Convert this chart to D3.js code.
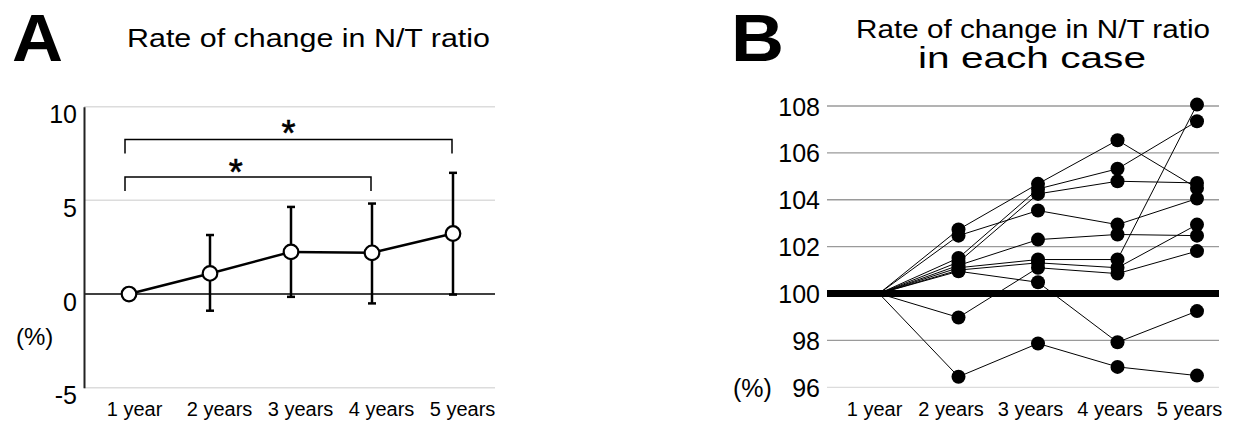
<!DOCTYPE html>
<html><head><meta charset="utf-8">
<script src="https://cdn.jsdelivr.net/npm/d3@7"></script>
<style>body{margin:0;background:#fff}svg{display:block}text{font-family:"Liberation Sans",Arial,sans-serif;fill:#000}</style>
</head><body>
<svg id="c" width="1238" height="423"></svg>
<script>
const categories = ["1 year","2 years","3 years","4 years","5 years"];
// Panel A: mean rate of change (%) with error bars
const meanA = [0, 1.1, 2.25, 2.2, 3.23];
const upperA = [0, 3.15, 4.65, 4.83, 6.47];
const lowerA = [0, -0.89, -0.15, -0.5, -0.03];
const ticksA = [-5, 0, 5, 10];
// significance brackets: [from index, to index, bracket level (%)]
const bracketFrom = [0, 0];
const bracketTo = [4, 3];
const bracketLevel = [8.25, 6.25];
// Panel B: each case (%)
const case1 = [100, 102.73, 104.68, 106.54, 104.5];
const case2 = [100, 101.52, 104.46, 105.32, 107.35];
const case3 = [100, 101.34, 104.25, 104.79, 104.72];
const case4 = [100, 102.47, 103.54, 102.94, 104.05];
const case5 = [100, 101.2, 102.3, 102.52, 102.47];
const case6 = [100, 101.1, 101.45, 101.45, 108.06];
const case7 = [100, 101.0, 101.31, 101.1, 102.94];
const case8 = [100, 98.98, 101.1, 100.85, 101.81];
const case9 = [100, 100.95, 100.48, 97.92, 99.25];
const case10 = [100, 96.45, 97.87, 96.87, 96.5];
const casesB = [case1,case2,case3,case4,case5,case6,case7,case8,case9,case10];
const ticksB = [96, 98, 100, 102, 104, 106, 108];

const svg = d3.select("#c");
const FF = "Liberation Sans, Arial, sans-serif";
function fitText(sel, w){
  sel.attr("textLength", w).attr("lengthAdjust","spacingAndGlyphs");
  return sel;
}

// ---------- Panel A ----------
const xA = d3.scalePoint().domain(categories).range([129, 453]);
const yA = d3.scaleLinear().domain([-5, 10]).range([387.7, 106.7]);
const gA = svg.append("g");
fitText(gA.append("text").attr("x",12).attr("y",61).attr("font-size",67).attr("font-weight","bold").text("A"), 51);
fitText(gA.append("text").attr("x",127).attr("y",46.5).attr("font-size",26.5).text("Rate of change in N/T ratio"), 363);

gA.selectAll(".grid").data(ticksA.filter(d=>d!==0)).join("line")
  .attr("x1",84).attr("x2",495).attr("y1",d=>yA(d)).attr("y2",d=>yA(d))
  .attr("stroke","#dcdcdc").attr("stroke-width",1.5);
gA.append("line").attr("x1",84).attr("x2",495).attr("y1",yA(0)).attr("y2",yA(0)).attr("stroke","#000").attr("stroke-width",1.5);
const axA = d3.axisLeft(yA).tickValues(ticksA).tickSize(0).tickPadding(7).tickFormat(d=>String(d));
const axg = gA.append("g").attr("transform","translate(84,0)").call(axA);
axg.select(".domain").attr("stroke","#222").attr("stroke-width",2);
axg.selectAll("text").attr("font-size",25).attr("dy","0.64em").attr("font-family",FF);
gA.append("text").attr("x",16).attr("y",345).attr("font-size",24).text("(%)");

const xg = gA.append("g").attr("transform","translate(0,400)").call(d3.axisBottom(xA).tickSize(0).tickPadding(0));
xg.select(".domain").remove();
xg.selectAll("text").attr("font-size",20).attr("dy","0.8em").attr("dx",(d,i)=>i===0?5:9).attr("font-family",FF);

// brackets
const starPos = [0.5, 0.45];
bracketFrom.forEach((f,i)=>{
  const x1 = xA(categories[f]) - 4, x2 = xA(categories[bracketTo[i]]) - 1, y = yA(bracketLevel[i]);
  gA.append("path").attr("d",`M${x1},${y+14}V${y}H${x2}V${y+14}`).attr("fill","none").attr("stroke","#000").attr("stroke-width",1.5);
  gA.append("text").attr("x",x1+(x2-x1)*starPos[i]).attr("y",y+(i===0?7:8.3)).attr("text-anchor","middle")
    .attr("font-size",36).attr("stroke","#000").attr("stroke-width",0.6).text("*");
});

// error bars
categories.forEach((c,i)=>{
  if (i===0) return;
  const x = xA(c);
  gA.append("line").attr("x1",x).attr("x2",x).attr("y1",yA(upperA[i])).attr("y2",yA(lowerA[i])).attr("stroke","#000").attr("stroke-width",2.5);
  [upperA[i], lowerA[i]].forEach(v=>gA.append("line").attr("x1",x-4).attr("x2",x+4).attr("y1",yA(v)).attr("y2",yA(v)).attr("stroke","#000").attr("stroke-width",2.5));
});
gA.append("path").datum(meanA).attr("d",d3.line().x((d,i)=>xA(categories[i])).y(d=>yA(d)))
  .attr("fill","none").attr("stroke","#000").attr("stroke-width",2.5);
gA.selectAll(".pt").data(meanA).join("circle").attr("cx",(d,i)=>xA(categories[i])).attr("cy",d=>yA(d)).attr("r",7.3)
  .attr("fill","#fff").attr("stroke","#000").attr("stroke-width",2.2);

// ---------- Panel B ----------
const xB = d3.scalePoint().domain(categories).range([879, 1197]);
const yB = d3.scaleLinear().domain([96, 108]).range([387.3, 106]);
const gB = svg.append("g");
fitText(gB.append("text").attr("x",731).attr("y",61).attr("font-size",67).attr("font-weight","bold").text("B"), 53);
fitText(gB.append("text").attr("x",1033).attr("y",37.5).attr("font-size",26.5).attr("text-anchor","middle").text("Rate of change in N/T ratio"), 354);
fitText(gB.append("text").attr("x",1032).attr("y",67.5).attr("font-size",29).attr("text-anchor","middle").text("in each case"), 228);

gB.selectAll(".gridB").data(ticksB.filter(d=>d!==100)).join("line")
  .attr("x1",827).attr("x2",1219).attr("y1",d=>yB(d)).attr("y2",d=>yB(d))
  .attr("stroke",d=>d===96?"#dcdcdc":"#9a9a9a").attr("stroke-width",1.3);
const axB = d3.axisLeft(yB).tickValues(ticksB).tickSize(0).tickPadding(7).tickFormat(d=>String(d));
const axbg = gB.append("g").attr("transform","translate(827,0)").call(axB);
axbg.select(".domain").remove();
axbg.selectAll("text").attr("font-size",25).attr("dy","0.36em").attr("font-family",FF);
gB.append("text").attr("x",733).attr("y",397).attr("font-size",25).text("(%)");

const xgB = gB.append("g").attr("transform","translate(0,400)").call(d3.axisBottom(xB).tickSize(0).tickPadding(0));
xgB.select(".domain").remove();
xgB.selectAll("text").attr("font-size",20).attr("dy","0.8em").attr("dx",(d,i)=>i===0?-5:-8).attr("font-family",FF);

const lineB = d3.line().x((d,i)=>xB(categories[i])).y(d=>yB(d));
gB.selectAll(".case").data(casesB).join("path").attr("d",lineB).attr("fill","none").attr("stroke","#000").attr("stroke-width",1);
gB.append("line").attr("x1",827).attr("x2",1219).attr("y1",yB(100)).attr("y2",yB(100)).attr("stroke","#000").attr("stroke-width",7);
casesB.forEach(cs=>{
  gB.selectAll(null).data(cs.slice(1)).join("circle").attr("cx",(d,i)=>xB(categories[i+1])).attr("cy",d=>yB(d)).attr("r",7).attr("fill","#000");
});
</script>
</body></html>
